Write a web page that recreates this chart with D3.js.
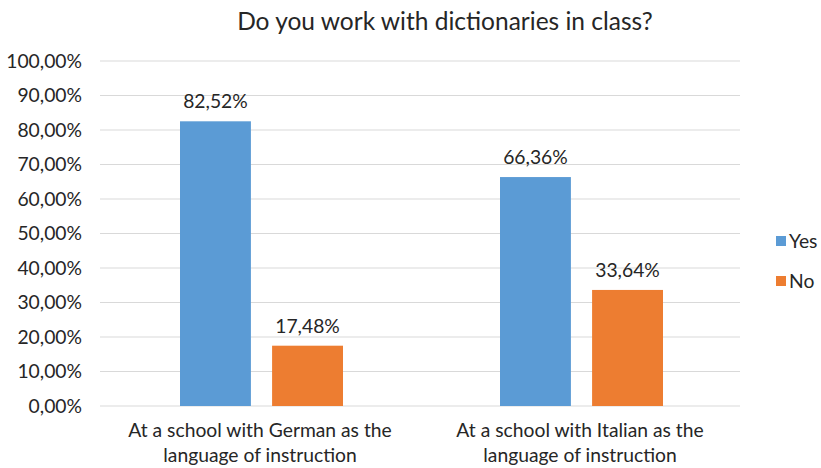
<!DOCTYPE html>
<html>
<head>
<meta charset="utf-8">
<script src="https://cdn.jsdelivr.net/npm/d3@7"></script>
<style>
  html, body { margin: 0; padding: 0; background: #fff; }
  svg { display: block; font-family: Lato, "Open Sans", sans-serif; }
</style>
</head>
<body>
<svg id="chart" width="821" height="468"></svg>
<script>
const categories = [
  ["At a school with German as the", "language of instruction"],
  ["At a school with Italian as the", "language of instruction"]
];
const seriesNames = ["Yes", "No"];
const yesValues = [82.52, 66.36];
const noValues = [17.48, 33.64];
const yTicks = [0, 10, 20, 30, 40, 50, 60, 70, 80, 90, 100];
const colors = ["#5B9BD5", "#ED7D31"];

const svg = d3.select("#chart");
const m = { left: 100, right: 81, top: 61, bottom: 62 };
const W = 821, H = 468;
const fs = 19.3;
const ink = "#262626";

const x0 = d3.scaleBand().domain([0, 1]).range([m.left, W - m.right]).paddingInner(0).paddingOuter(0);
const x1 = d3.scaleBand().domain([0, 1]).range([80, 243]).paddingInner(0.23).paddingOuter(0);
const y = d3.scaleLinear().domain([0, 100]).range([H - m.bottom, m.top]);

const fmt = v => d3.format(".2f")(v).replace(".", ",") + "%";

// gridlines
svg.append("g").selectAll("line").data(yTicks).join("line")
  .attr("x1", m.left).attr("x2", W - m.right)
  .attr("y1", d => y(d)).attr("y2", d => y(d))
  .attr("stroke", "#D9D9D9").attr("stroke-width", 1.2);

// y axis labels
const yAxis = d3.axisLeft(y).tickValues(yTicks).tickSize(0).tickPadding(0).tickFormat(fmt);
svg.append("g").attr("transform", `translate(${m.left - 18},0)`).call(yAxis)
  .call(g => g.select(".domain").remove())
  .call(g => g.selectAll("text").attr("font-size", fs).attr("fill", ink).attr("font-family", "Lato, sans-serif"));

// bars
const data = [0, 1].map(i => [yesValues[i], noValues[i]]);
const groups = svg.append("g").selectAll("g").data(data).join("g")
  .attr("transform", (d, i) => `translate(${x0(i)},0)`);
groups.selectAll("rect").data(d => d).join("rect")
  .attr("x", (d, j) => x1(j)).attr("width", x1.bandwidth())
  .attr("y", d => y(d)).attr("height", d => y(0) - y(d))
  .attr("fill", (d, j) => colors[j]);
groups.selectAll("text.val").data(d => d).join("text").attr("class", "val")
  .attr("x", (d, j) => x1(j) + x1.bandwidth() / 2)
  .attr("y", d => y(d) - 13)
  .attr("text-anchor", "middle").attr("font-size", fs).attr("fill", ink)
  .text(fmt);

// category labels
const cat = svg.append("g").selectAll("text").data(categories).join("text")
  .attr("text-anchor", "middle").attr("font-size", fs).attr("fill", ink)
  .attr("transform", (d, i) => `translate(${x0(i) + x0.bandwidth() / 2},0)`);
cat.selectAll("tspan").data(d => d).join("tspan")
  .attr("x", 0).attr("y", (d, k) => 437 + k * 25).text(d => d);

// title
svg.append("text").attr("x", 445).attr("y", 30).attr("text-anchor", "middle")
  .attr("font-size", 24.5).attr("fill", ink).text("Do you work with dictionaries in class?");

// legend
const leg = svg.append("g").selectAll("g").data(seriesNames).join("g")
  .attr("transform", (d, i) => `translate(776,${241 + i * 40})`);
leg.append("rect").attr("x", 0).attr("y", -5).attr("width", 10).attr("height", 10)
  .attr("fill", (d, i) => colors[i]);
leg.append("text").attr("x", 13).attr("y", 6.5).attr("font-size", fs).attr("fill", ink).text(d => d);
</script>
</body>
</html>
